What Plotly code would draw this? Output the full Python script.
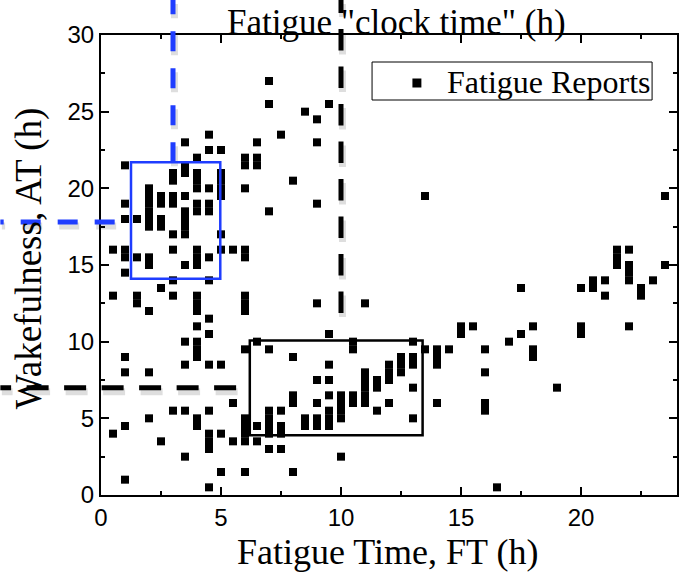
import plotly.graph_objects as go

# ---- data: fatigue reports (FT hours, AT hours) read column by column ----
ft_columns = [0.5, 1, 1.5, 2, 2.5, 3, 3.5, 4, 4.5, 5, 5.5, 6, 6.5, 7, 7.5, 8, 8.5, 9, 9.5, 10,
              10.5, 11, 11.5, 12, 12.5, 13, 13.5, 14, 14.5, 15, 15.5, 16, 16.5, 17, 17.5, 18,
              19, 20, 20.5, 21, 21.5, 22, 22.5, 23, 23.5]
at_columns = [
    [16, 13, 4],
    [21.5, 19, 18, 16, 15.5, 14.5, 9, 8, 4.5, 1],
    [18, 15.5, 13, 12.5],
    [20, 19.5, 19, 18.5, 18, 17.5, 15.5, 15, 12, 8, 5],
    [19.5, 19, 18, 17.5, 13.5, 3.5],
    [21, 20.5, 19.5, 19, 17, 16, 14, 13, 5.5],
    [23, 21.5, 21, 19.5, 18.5, 18, 17.5, 17, 15, 10, 8.5, 5.5, 2.5],
    [22, 21, 20.5, 20, 19, 18.5, 16, 15.5, 15, 13, 12.5, 12, 11, 10, 9.5, 9, 5, 4.5],
    [23.5, 22.5, 20, 19, 18.5, 15.5, 14, 11.5, 10.5, 8.5, 5.5, 4, 3.5, 3, 0.5],
    [22.5, 21, 20.5, 20, 19.5, 17, 16, 8.5, 4, 1.5],
    [16, 6, 3.5],
    [22, 21.5, 20, 16, 15.5, 13, 12.5, 12, 9.5, 5, 4.5, 4, 3.5, 1.5],
    [23, 22, 21.5, 10, 4.5, 3.5],
    [27, 25.5, 18.5, 9.5, 5.5, 5, 4.5, 4, 3],
    [23.5, 5.5, 4.5, 4, 3],
    [20.5, 9, 6.5, 6, 1.5],
    [25, 5, 4.5],
    [24.5, 23, 19, 12.5, 7.5, 6, 5, 4.5],
    [25.5, 10.5, 8.5, 7.5, 6.5, 5.5, 5, 4.5],
    [6.5, 6, 5.5, 5, 2.5],
    [10, 9.5, 6.5, 6],
    [12.5, 8, 7.5, 7, 6.5, 6],
    [7.5, 7, 5.5],
    [8.5, 8, 7.5, 6],
    [9, 8.5, 8],
    [10, 9, 8.5, 7, 5],
    [19.5, 9.5],
    [9.5, 9, 8.5, 6],
    [9.5],
    [11, 10.5],
    [11],
    [9.5, 8, 6, 5.5],
    [0.5],
    [10],
    [13.5, 10.5],
    [11, 9.5, 9],
    [7],
    [13.5, 11, 10.5],
    [14, 13.5],
    [14, 13],
    [16, 15.5, 15],
    [16, 15, 14.5, 14, 11],
    [13.5, 13],
    [14],
    [19.5, 15],
]
fatigue_time = [x for x, ys in zip(ft_columns, at_columns) for _ in ys]
wakefulness = [y for ys in at_columns for y in ys]

x_ticks = [0, 5, 10, 15, 20]
y_ticks = [0, 5, 10, 15, 20, 25, 30]
series_name = "Fatigue Reports"

# highlight boxes (data units)
blue_box = dict(x0=1.25, x1=4.97, y0=14.1, y1=21.7)
black_box = dict(x0=6.2, x1=13.4, y0=3.9, y1=10.07)

# ---- layout geometry ----
W, H = 682, 577
ML, MR, MT, MB = 101, 3, 35, 82
PW, PH = W - ML - MR, H - MT - MB
XMAX, YMAX = 24, 30
LEFT_EDGE = -ML / PW
TOP_EDGE = 1 + MT / PH


def xp(v):
    return v / XMAX


def yp(v):
    return v / YMAX


def px_x(p):
    return (p - ML) / PW


def px_y(p):
    return (MT + PH - p) / PH


fig = go.Figure()
fig.add_trace(go.Scatter(
    x=fatigue_time, y=wakefulness, mode="markers", name=series_name,
    marker=dict(symbol="square", size=8, color="black", line=dict(width=0)),
    showlegend=False,
))

BLUE = "#1f3dff"
shapes = []


def dashed(x0, y0, x1, y1, color, dash):
    sdx, sdy = 1.5 / PW, -4 / PH
    shapes.append(dict(type="line", xref="paper", yref="paper",
                       x0=x0 + sdx, y0=y0 + sdy, x1=x1 + sdx, y1=y1 + sdy,
                       line=dict(color="rgba(0,0,0,0.13)", width=7, dash=dash), layer="above"))
    shapes.append(dict(type="line", xref="paper", yref="paper",
                       x0=x0, y0=y0, x1=x1, y1=y1,
                       line=dict(color=color, width=5, dash=dash), layer="above"))


# blue guides (AT ~17.8 h, FT = 3 h)
dashed(xp(0.57), yp(17.8), LEFT_EDGE, yp(17.8), BLUE, "20px,17px")
dashed(xp(3.0), yp(21.7), xp(3.0), TOP_EDGE, BLUE, "20px,17px")
# black guides (AT = 7 h, FT = 10 h)
dashed(xp(5.63), yp(7.0), LEFT_EDGE, yp(7.0), "black", "22px,15.5px")
dashed(xp(10.0), yp(11.87), xp(10.0), TOP_EDGE, "black", "21.5px,16px")

shapes.append(dict(type="rect", xref="x", yref="y", **blue_box,
                   line=dict(color=BLUE, width=2.5), layer="above"))
shapes.append(dict(type="rect", xref="x", yref="y", **black_box,
                   line=dict(color="black", width=2.5), layer="above"))

# legend (box + symbol + label)
shapes.append(dict(type="rect", xref="paper", yref="paper",
                   x0=px_x(373), x1=px_x(654), y0=px_y(100), y1=px_y(62),
                   line=dict(color="black", width=1), fillcolor="white", layer="above"))
shapes.append(dict(type="rect", xref="paper", yref="paper",
                   x0=px_x(413.5), x1=px_x(422.5), y0=px_y(87.5), y1=px_y(78.5),
                   line=dict(width=0), fillcolor="black", layer="above"))

serif = "Liberation Serif, Times New Roman, serif"
annotations = [
    dict(text="Fatigue Time, FT (h)", xref="paper", yref="paper", x=px_x(388),
         y=px_y(552), xanchor="center", yanchor="middle", showarrow=False,
         font=dict(family=serif, size=36, color="black")),
    dict(text="Wakefulness, AT (h)", xref="paper", yref="paper", x=px_x(29),
         y=px_y(258), xanchor="center", yanchor="middle", showarrow=False,
         textangle=-90, font=dict(family=serif, size=37, color="black")),
    dict(text="Fatigue \"clock time\" (h)", xref="paper", yref="paper", x=px_x(398),
         y=px_y(23), xanchor="center", yanchor="middle", showarrow=False,
         borderpad=0,
         font=dict(family=serif, size=35, color="black")),
    dict(text=series_name, xref="paper", yref="paper", x=px_x(446),
         y=px_y(82), xanchor="left", yanchor="middle", showarrow=False,
         font=dict(family=serif, size=32, color="black")),
]

axis_common = dict(
    showline=True, linecolor="black", linewidth=2, mirror="allticks",
    ticks="inside", ticklen=8, tickwidth=1.5, tickcolor="black",
    showgrid=False, zeroline=False,
    tickfont=dict(family="Liberation Sans, Arial, sans-serif", size=24, color="black"),
)

fig.update_layout(
    width=W, height=H,
    margin=dict(l=ML, r=MR, t=MT, b=MB),
    paper_bgcolor="white", plot_bgcolor="white",
    xaxis=dict(range=[0, XMAX], tickvals=x_ticks,
               minor=dict(dtick=2.5, ticks="inside", ticklen=4, tickwidth=1.5, tickcolor="black"),
               **axis_common),
    yaxis=dict(range=[0, YMAX], tickvals=y_ticks,
               minor=dict(dtick=2.5, ticks="inside", ticklen=4, tickwidth=1.5, tickcolor="black"),
               **axis_common),
    showlegend=False,
    shapes=shapes,
    annotations=annotations,
)

fig.write_html("out.html")
